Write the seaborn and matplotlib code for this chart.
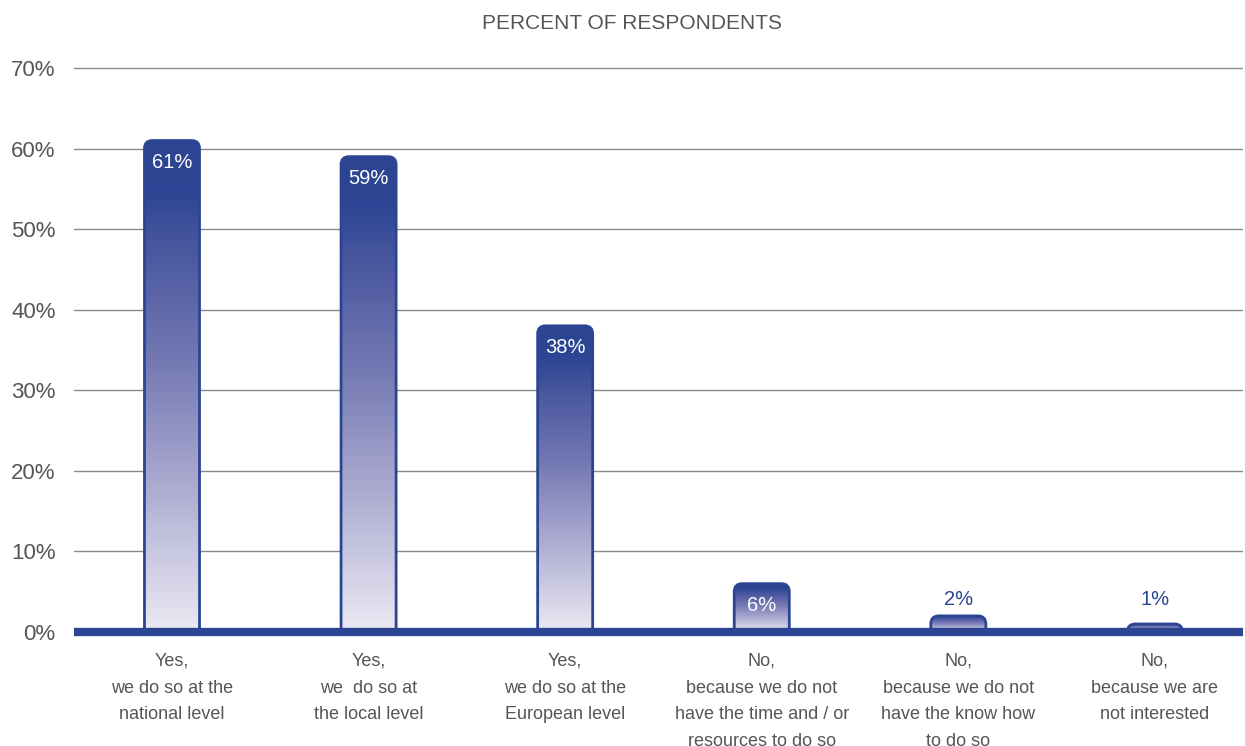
import numpy as np
import pandas as pd
import matplotlib
matplotlib.use("Agg")
import matplotlib.pyplot as plt
import seaborn as sns
from matplotlib.patches import FancyBboxPatch
from matplotlib.colors import LinearSegmentedColormap

# data
answers = [
    "Yes,\nwe do so at the\nnational level",
    "Yes,\nwe  do so at\nthe local level",
    "Yes,\nwe do so at the\nEuropean level",
    "No,\nbecause we do not\nhave the time and / or\nresources to do so",
    "No,\nbecause we do not\nhave the know how\nto do so",
    "No,\nbecause we are\nnot interested",
]
percent = [61, 59, 38, 6, 2, 1]
yticks = [0, 10, 20, 30, 40, 50, 60, 70]

BLUE = "#2b4593"
GREY = "#555555"

sns.set_theme(style="white")
plt.rcParams["font.family"] = ["Liberation Sans", "DejaVu Sans"]

df = pd.DataFrame({"answer": answers, "pct": percent})

fig = plt.figure(figsize=(12.45, 7.46), dpi=100)
ax = fig.add_axes([0.0592, 0.1528, 0.9395, 0.7582])

sns.barplot(data=df, x="answer", y="pct", width=0.28, color=BLUE, ax=ax)

ax.set_xlim(-0.5, 5.45)
ax.set_ylim(0, 70.2)
ax.set_yticks(yticks)
ax.set_yticklabels([f"{t}%" for t in yticks])
ax.set_xlabel("")
ax.set_ylabel("")
for s in ax.spines.values():
    s.set_visible(False)
ax.grid(axis="y", color="#8a8a8a", linewidth=1)
ax.set_axisbelow(True)
ax.tick_params(axis="y", length=0, pad=13, labelsize=16, labelcolor=GREY)
ax.tick_params(axis="x", length=0, pad=15, labelsize=13, labelcolor=GREY)
for lab in ax.get_xticklabels():
    lab.set_linespacing(1.75)

# pixel -> data scale for rounded corners
fig.canvas.draw()
inv = ax.transData.inverted()
p0 = inv.transform((0, 0))
p1 = inv.transform((1, 1))
dx_px = p1[0] - p0[0]
dy_px = p1[1] - p0[1]
r_px = 8

cmap = LinearSegmentedColormap.from_list(
    "bar", [(0, "#ebeaf4"), (0.3, "#abaad0"), (0.55, "#7479b3"),
            (0.8, "#45549d"), (0.9, "#2c4594"), (1, "#2b4593")])
grad = np.linspace(0, 1, 256).reshape(-1, 1)

for patch in ax.patches:
    x = patch.get_x()
    w = patch.get_width()
    h = patch.get_height()
    patch.set_visible(False)
    below = 2 * r_px * dy_px
    box = FancyBboxPatch((x, -below), w, h + below,
                         boxstyle=f"round,pad=0,rounding_size={r_px * dx_px}",
                         mutation_aspect=dy_px / dx_px,
                         facecolor="none", edgecolor=BLUE, linewidth=2, zorder=3)
    ax.add_patch(box)
    im = ax.imshow(grad, cmap=cmap, origin="lower", aspect="auto",
                   extent=(x, x + w, 0, h), zorder=2, interpolation="bilinear")
    im.set_clip_path(box)
    xc = x + w / 2
    if h >= 5:
        ax.annotate(f"{h:.0f}%", (xc, h), xytext=(0, -15.5), textcoords="offset points",
                    ha="center", va="center", color="white", fontsize=14.5, zorder=4)
    else:
        ax.text(xc, 4, f"{h:.0f}%", ha="center", va="center", color=BLUE,
                fontsize=14.5, zorder=4)

ax.set_xlim(-0.5, 5.45)
ax.set_ylim(0, 70.2)
ax.axhline(0, color=BLUE, linewidth=6, clip_on=False, zorder=5,
           solid_capstyle="butt")

fig.text(0.508, 0.969, "PERCENT OF RESPONDENTS", ha="center", va="center",
         fontsize=15, color=GREY)

fig.savefig("out.png", dpi=100)
